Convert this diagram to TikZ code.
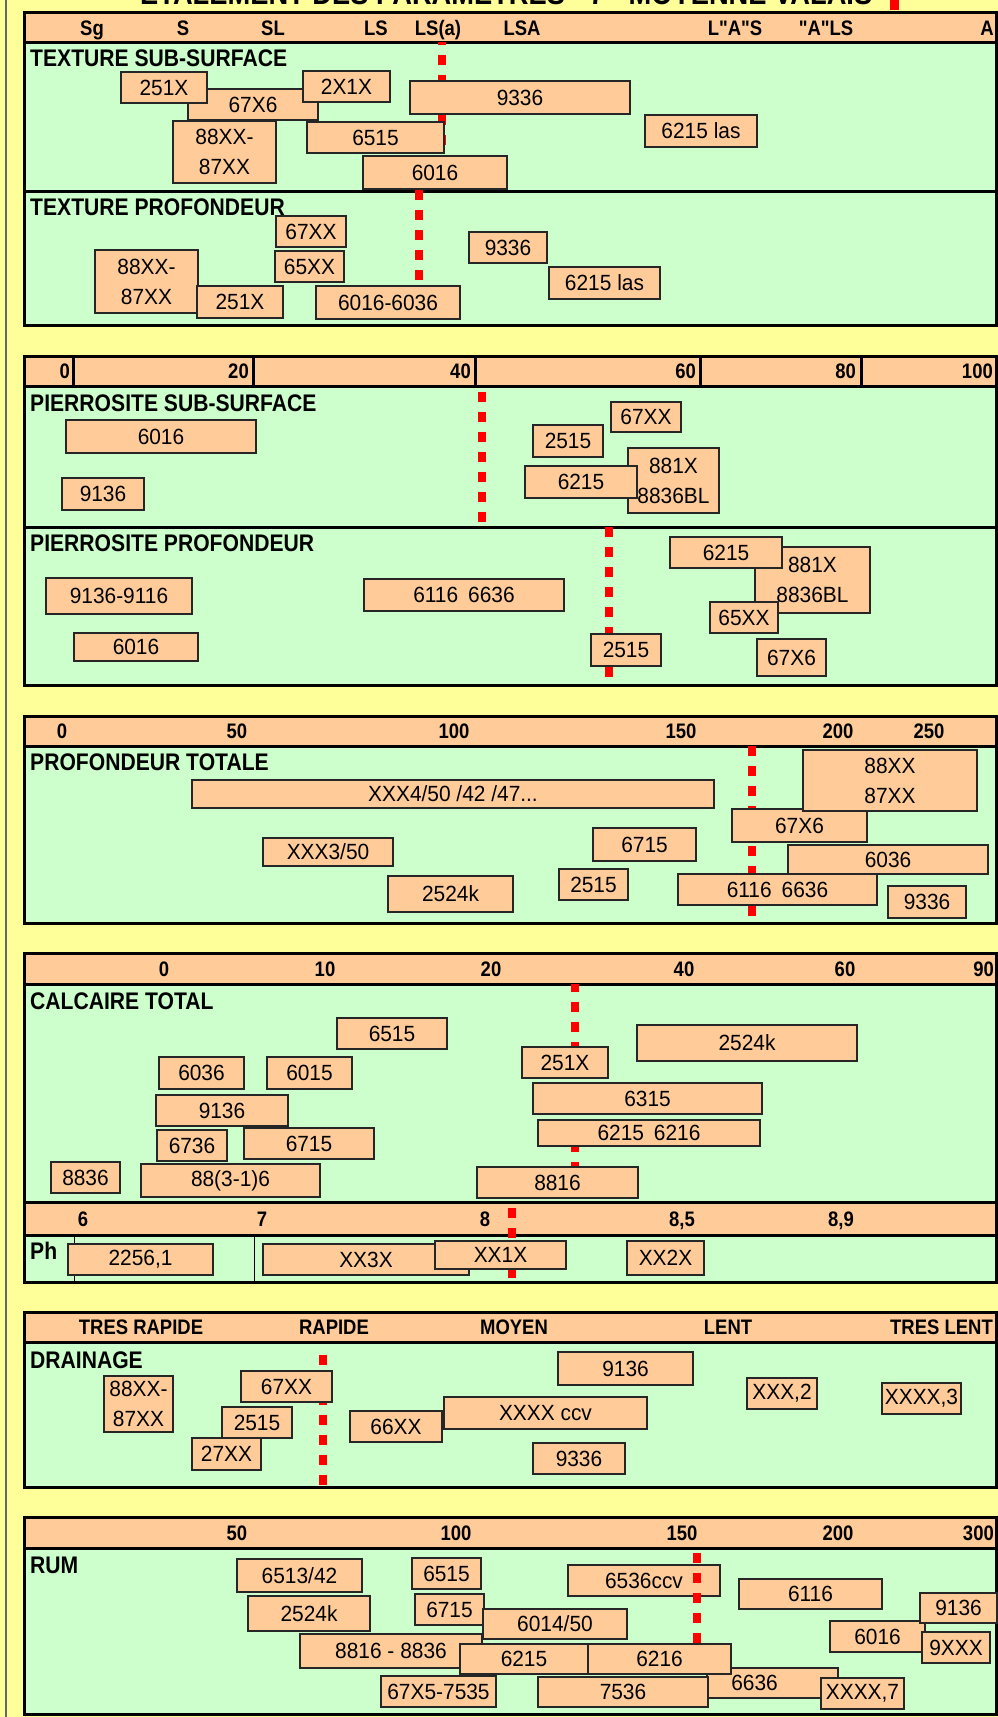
\documentclass[tikz,border=0pt]{standalone}
\usepackage{fontspec}
\setmainfont{Liberation Sans}
\newfontfamily\boxfont[FakeStretch=0.95]{Liberation Sans}
\newfontfamily\titfont[FakeStretch=0.88]{Liberation Sans}
\definecolor{bgy}{RGB}{255,255,153}
\definecolor{grn}{RGB}{204,255,204}
\definecolor{pch}{RGB}{255,204,153}
\tikzset{
  bx/.style={draw=black!85, line width=1.3pt, fill=pch, inner sep=0pt,
    font=\boxfont\fontsize{22}{30}\selectfont, align=center},
  hdr/.style={font=\titfont\bfseries\fontsize{21}{21}\selectfont, inner sep=0pt,
    text height=15pt, text depth=0pt},
  sect/.style={font=\titfont\bfseries\fontsize{24}{24}\selectfont, inner sep=0pt, anchor=west},
  reddash/.style={draw=red, line width=8pt, dash pattern=on 10pt off 10pt},
  pborder/.style={draw=black, line width=3pt},
  thinline/.style={draw=black, line width=1pt},
}
\newcommand\bx[6]{%
  \pgfmathsetmacro\bxw{#4-#2}\pgfmathsetmacro\bxh{#5-#3}%
  \node[bx, minimum width=\bxw pt, minimum height=\bxh pt] (#1) at ({(#2+#4)/2},{(#3+#5)/2}) {#6};}
\newcommand\panelfill[3]{% top, header bottom, bottom
  \fill[grn] (24,#2) rectangle (996,#3);
  \fill[pch] (24,#1) rectangle (996,#2);}
\newcommand\panelborder[3]{%
  \draw[pborder] (24,#1) rectangle (996,#3);
  \draw[pborder] (24,#2) -- (996,#2);}
\begin{document}
\begin{tikzpicture}[x=1pt,y=-1pt]
\useasboundingbox (0,0) rectangle (998,1717);
\fill[bgy] (0,0) rectangle (998,1717);
\draw[draw=black!60, line width=1.5pt] (6,0) -- (6,1717);
% title (cut at top)
\node[font=\titfont\bfseries\fontsize{31}{31}\selectfont, inner sep=0pt, anchor=base west] (title) at (140,4) {ETALEMENT DES PARAMETRES - 7 - MOYENNE VALAIS};
\fill[red] (890,0) rectangle (899,10);

% ---------------- fills
\panelfill{12}{42}{325}
\panelfill{356}{386}{685}
\panelfill{716}{746}{923}
\panelfill{953}{984}{1282}
\fill[pch] (24,1202) rectangle (996,1235);
\panelfill{1312}{1342}{1487}
\panelfill{1517}{1548}{1714}

% ---------------- borders
\panelborder{12}{42}{325}
\draw[pborder] (24,191.5) -- (996,191.5);
\panelborder{356}{386}{685}
\draw[pborder] (24,527) -- (996,527);
\foreach \xx in {73,253,475,700,861} \draw[pborder] (\xx,356) -- (\xx,386);
\panelborder{716}{746}{923}
\panelborder{953}{984}{1282}
\draw[pborder] (24,1202) -- (996,1202);
\draw[pborder] (24,1235) -- (996,1235);
\draw[thinline] (74.5,1235) -- (74.5,1282);
\draw[thinline] (254,1235) -- (254,1282);
\panelborder{1312}{1342}{1487}
\panelborder{1517}{1548}{1714}

% ---------------- red dashed lines
\coordinate (ra1) at (442,42);   \coordinate (ra2) at (442,160);
\coordinate (rb1) at (419,190);  \coordinate (rb2) at (419,325);
\coordinate (rc1) at (482,392);  \coordinate (rc2) at (482,527);
\coordinate (rd1) at (609,527);  \coordinate (rd2) at (609,685);
\coordinate (re1) at (752,746);  \coordinate (re2) at (752,923);
\coordinate (rf1) at (575,984);  \coordinate (rf2) at (575,1170);
\coordinate (rg1) at (512,1208); \coordinate (rg2) at (512,1282);
\coordinate (rh1) at (323,1355); \coordinate (rh2) at (323,1487);
\coordinate (ri1) at (697,1553); \coordinate (ri2) at (697,1644);
\draw[reddash, dash phase=7pt] (ra1) -- (ra2);
\draw[reddash] (rb1) -- (rb2);
\draw[reddash] (rc1) -- (rc2);
\draw[reddash] (rd1) -- (rd2);
\draw[reddash] (re1) -- (re2);
\draw[reddash, dash phase=2pt] (rf1) -- (rf2);
\draw[reddash] (rg1) -- (rg2);
\draw[reddash] (rh1) -- (rh2);

% ---------------- header labels
\node[hdr] (l1a) at (92,28) {Sg};
\node[hdr] (l1b) at (183,28) {S};
\node[hdr] (l1c) at (273,28) {SL};
\node[hdr] (l1d) at (376,28) {LS};
\node[hdr] (l1e) at (438,28) {LS(a)};
\node[hdr] (l1f) at (522,28) {LSA};
\node[hdr] (l1g) at (735,28) {L"A"S};
\node[hdr] (l1h) at (826,28) {"A"LS};
\node[hdr, anchor=east] (l1i) at (994,28) {A};

\node[hdr, anchor=east] (l2a) at (70,371) {0};
\node[hdr, anchor=east] (l2b) at (249,371) {20};
\node[hdr, anchor=east] (l2c) at (471,371) {40};
\node[hdr, anchor=east] (l2d) at (696,371) {60};
\node[hdr, anchor=east] (l2e) at (856,371) {80};
\node[hdr, anchor=east] (l2f) at (993,371) {100};

\node[hdr] (l3a) at (62,731) {0};
\node[hdr] (l3b) at (237,731) {50};
\node[hdr] (l3c) at (454,731) {100};
\node[hdr] (l3d) at (681,731) {150};
\node[hdr] (l3e) at (838,731) {200};
\node[hdr] (l3f) at (929,731) {250};

\node[hdr] (l4a) at (164,969) {0};
\node[hdr] (l4b) at (325,969) {10};
\node[hdr] (l4c) at (491,969) {20};
\node[hdr] (l4d) at (684,969) {40};
\node[hdr] (l4e) at (845,969) {60};
\node[hdr, anchor=east] (l4f) at (994,969) {90};

\node[hdr] (lpa) at (83,1219) {6};
\node[hdr] (lpb) at (262,1219) {7};
\node[hdr] (lpc) at (485,1219) {8};
\node[hdr] (lpd) at (682,1219) {8,5};
\node[hdr] (lpe) at (841,1219) {8,9};

\node[hdr] (l5a) at (141,1327) {TRES RAPIDE};
\node[hdr] (l5b) at (334,1327) {RAPIDE};
\node[hdr] (l5c) at (514,1327) {MOYEN};
\node[hdr] (l5d) at (728,1327) {LENT};
\node[hdr, anchor=east] (l5e) at (993,1327) {TRES LENT};

\node[hdr] (l6a) at (237,1533) {50};
\node[hdr] (l6b) at (456,1533) {100};
\node[hdr] (l6c) at (682,1533) {150};
\node[hdr] (l6d) at (838,1533) {200};
\node[hdr, anchor=east] (l6e) at (994,1533) {300};

% ---------------- section titles
\node[sect] (s1) at (30,58) {TEXTURE SUB-SURFACE};
\node[sect] (s2) at (30,207) {TEXTURE PROFONDEUR};
\node[sect] (s3) at (30,403) {PIERROSITE SUB-SURFACE};
\node[sect] (s4) at (30,543) {PIERROSITE PROFONDEUR};
\node[sect] (s5) at (30,762) {PROFONDEUR TOTALE};
\node[sect] (s6) at (30,1001) {CALCAIRE TOTAL};
\node[sect] (s7) at (30,1251) {Ph};
\node[sect] (s8) at (30,1360) {DRAINAGE};
\node[sect] (s9) at (30,1565) {RUM};

% ---------------- boxes: texture sub-surface
\bx{a3}{188}{89}{318}{120}{67X6}
\bx{a1}{121}{72}{207}{103}{251X}
\bx{a2}{303}{71}{390}{102}{2X1X}
\bx{a4}{410}{81}{630}{114}{9336}
\bx{a5}{173}{121}{276}{183}{88XX-\\87XX}
\bx{a6}{307}{122}{444}{153}{6515}
\bx{a7}{645}{115}{757}{147}{6215 las}
\bx{a8}{363}{156}{507}{189}{6016}
% texture profondeur
\bx{b1}{276}{216}{346}{247}{67XX}
\bx{b2}{275}{251}{344}{282}{65XX}
\bx{b3}{469}{232}{547}{263}{9336}
\bx{b4}{95}{250}{198}{313}{88XX-\\87XX}
\bx{b5}{197}{286}{283}{318}{251X}
\bx{b6}{316}{286}{460}{319}{6016-6036}
\bx{b7}{549}{267}{660}{299}{6215 las}
% pierrosite sub-surface
\bx{c1}{66}{420}{256}{453}{6016}
\bx{c2}{62}{478}{144}{510}{9136}
\bx{c3}{611}{402}{681}{432}{67XX}
\bx{c4}{533}{425}{603}{457}{2515}
\bx{c5}{628}{448}{719}{513}{881X\\8836BL}
\bx{c6}{525}{466}{637}{498}{6215}
% pierrosite profondeur
\bx{d1}{755}{547}{870}{613}{881X\\8836BL}
\bx{d2}{670}{537}{782}{568}{6215}
\bx{d3}{710}{602}{778}{633}{65XX}
\bx{d4}{757}{639}{826}{676}{67X6}
\bx{d5}{46}{578}{192}{614}{9136-9116}
\bx{d6}{364}{579}{564}{611}{6116\hspace{10pt}6636}
\bx{d7}{74}{633}{198}{661}{6016}
\bx{d8}{591}{634}{661}{666}{2515}
% profondeur totale
\bx{e1}{192}{780}{714}{808}{XXX4/50 /42 /47...}
\bx{e2}{732}{809}{867}{842}{67X6}
\bx{e3}{803}{750}{977}{811}{88XX\\87XX}
\bx{e4}{593}{828}{696}{861}{6715}
\bx{e5}{263}{838}{393}{866}{XXX3/50}
\bx{e6}{788}{845}{988}{874}{6036}
\bx{e7}{559}{869}{628}{900}{2515}
\bx{e8}{388}{876}{513}{912}{2524k}
\bx{e9}{678}{874}{877}{905}{6116\hspace{10pt}6636}
\bx{e10}{888}{886}{966}{918}{9336}
% calcaire total
\bx{f1}{337}{1018}{447}{1049}{6515}
\bx{f2}{637}{1025}{857}{1061}{2524k}
\bx{f3}{522}{1047}{608}{1078}{251X}
\bx{f4}{159}{1057}{244}{1089}{6036}
\bx{f5}{267}{1057}{352}{1089}{6015}
\bx{f6}{156}{1095}{288}{1126}{9136}
\bx{f7}{533}{1083}{762}{1114}{6315}
\bx{f8}{538}{1120}{760}{1146}{6215\hspace{10pt}6216}
\bx{f9}{157}{1130}{227}{1161}{6736}
\bx{f10}{244}{1128}{374}{1159}{6715}
\bx{f11}{51}{1162}{120}{1193}{8836}
\bx{f12}{141}{1164}{320}{1197}{88(3-1)6}
\bx{f13}{477}{1167}{638}{1198}{8816}
% Ph
\bx{g1}{68}{1244}{213}{1275}{2256,1}
\bx{g2}{263}{1244}{469}{1275}{XX3X}
\bx{g3}{435}{1241}{566}{1269}{XX1X}
\bx{g4}{627}{1241}{704}{1275}{XX2X}
% drainage
\bx{h1}{558}{1352}{693}{1385}{9136}
\bx{h2}{104}{1376}{173}{1432}{88XX-\\87XX}
\bx{h3}{241}{1371}{332}{1402}{67XX}
\bx{h4}{747}{1378}{817}{1409}{XXX,2}
\bx{h5}{882}{1383}{961}{1414}{XXXX,3}
\bx{h6}{222}{1407}{292}{1438}{2515}
\bx{h7}{444}{1397}{647}{1429}{XXXX ccv}
\bx{h8}{350}{1411}{442}{1442}{66XX}
\bx{h9}{192}{1438}{261}{1470}{27XX}
\bx{h10}{533}{1443}{625}{1474}{9336}
% RUM
\bx{i1}{237}{1559}{362}{1592}{6513/42}
\bx{i2}{412}{1558}{481}{1589}{6515}
\bx{i3}{568}{1565}{720}{1596}{6536ccv}
\bx{i4}{739}{1579}{882}{1609}{6116}
\bx{i5}{248}{1596}{370}{1631}{2524k}
\bx{i6}{415}{1594}{484}{1625}{6715}
\bx{i7}{483}{1609}{627}{1639}{6014/50}
\bx{i8}{830}{1621}{925}{1652}{6016}
\bx{i9}{920}{1593}{997}{1623}{9136}
\bx{i10}{922}{1632}{990}{1663}{9XXX}
\bx{i11}{300}{1634}{482}{1668}{8816 - 8836}
\bx{i14}{707}{1668}{838}{1698}{\mbox{6636\kern36pt}}
\bx{i12}{460}{1644}{588}{1674}{6215}
\bx{i13}{588}{1644}{731}{1674}{6216}
\bx{i15}{381}{1676}{496}{1707}{67X5-7535}
\bx{i16}{538}{1677}{708}{1707}{7536}
\bx{i17}{821}{1678}{904}{1709}{XXXX,7}
% RUM red line lies over its boxes
\draw[reddash] (ri1) -- (ri2);
\end{tikzpicture}
\end{document}
